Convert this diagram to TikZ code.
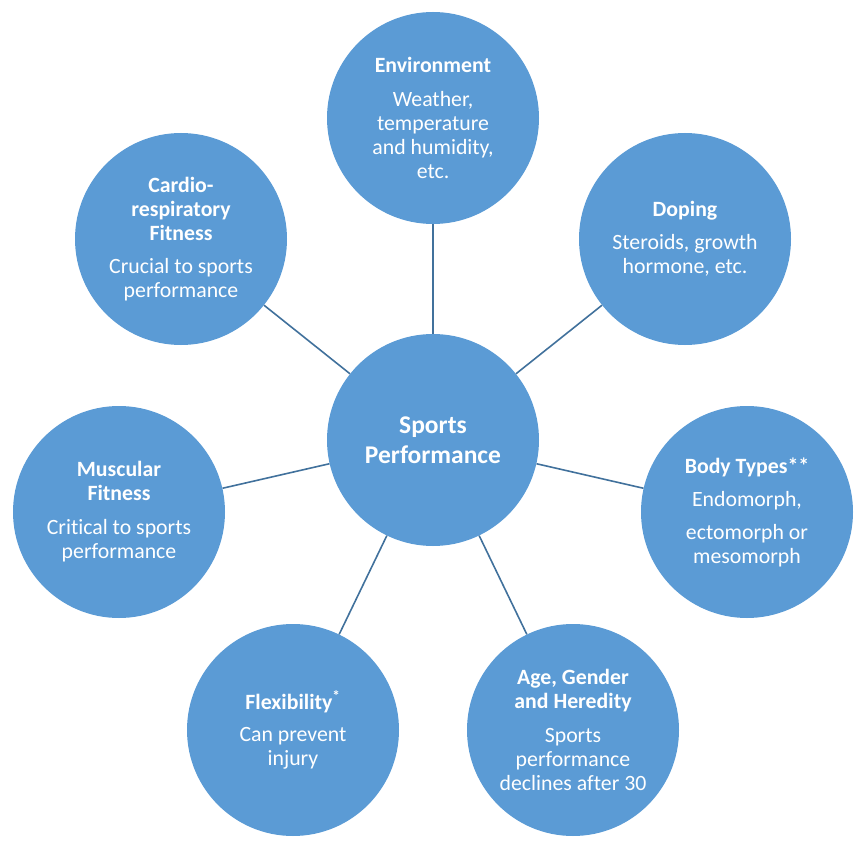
\documentclass[tikz,border=0pt]{standalone}
\usepackage{fontspec}
\setmainfont[Ligatures=NoCommon]{Carlito}
\definecolor{fillblue}{HTML}{5B9BD5}
\definecolor{lineblue}{HTML}{41719C}
\begin{document}
\begin{tikzpicture}[x=1pt,y=-1pt,
  bubble/.style={circle, fill=fillblue, minimum size=212pt, inner sep=0pt, text=white, align=center, font=\fontsize{21.8}{24}\selectfont},
  hub/.style={bubble, font=\fontsize{25.5}{30}\selectfont\bfseries},
  link/.style={draw=lineblue, line width=1.6pt}]
\useasboundingbox (0,0) rectangle (860,845);
\node[hub] (c) at (433,440) {Sports\\Performance};
\node[bubble] (env) at (433,118) {\textbf{Environment}\\[10pt]Weather,\\temperature\\and humidity,\\etc.};
\node[bubble] (dop) at (685,239) {\textbf{Doping}\\[9pt]Steroids, growth\\hormone, etc.};
\node[bubble] (body) at (747,512) {\textbf{Body Types**}\\[9pt]Endomorph,\\[9pt]ectomorph or\\mesomorph};
\node[bubble] (age) at (573,730) {\textbf{Age, Gender}\\\textbf{and Heredity}\\[10pt]Sports\\performance\\declines after 30};
\node[bubble] (flex) at (293,730) {\textbf{Flexibility}\textsuperscript{\textbf{*}}\\[8pt]Can prevent\\injury};
\node[bubble] (musc) at (119,512) {\textbf{Muscular}\\\textbf{Fitness}\\[10pt]Critical to sports\\performance};
\node[bubble] (card) at (181,239) {\textbf{Cardio-}\\\textbf{respiratory}\\\textbf{Fitness}\\[9pt]Crucial to sports\\performance};
\foreach \n in {env,dop,body,age,flex,musc,card}
  \draw[link] (c) -- (\n);
\end{tikzpicture}
\end{document}
